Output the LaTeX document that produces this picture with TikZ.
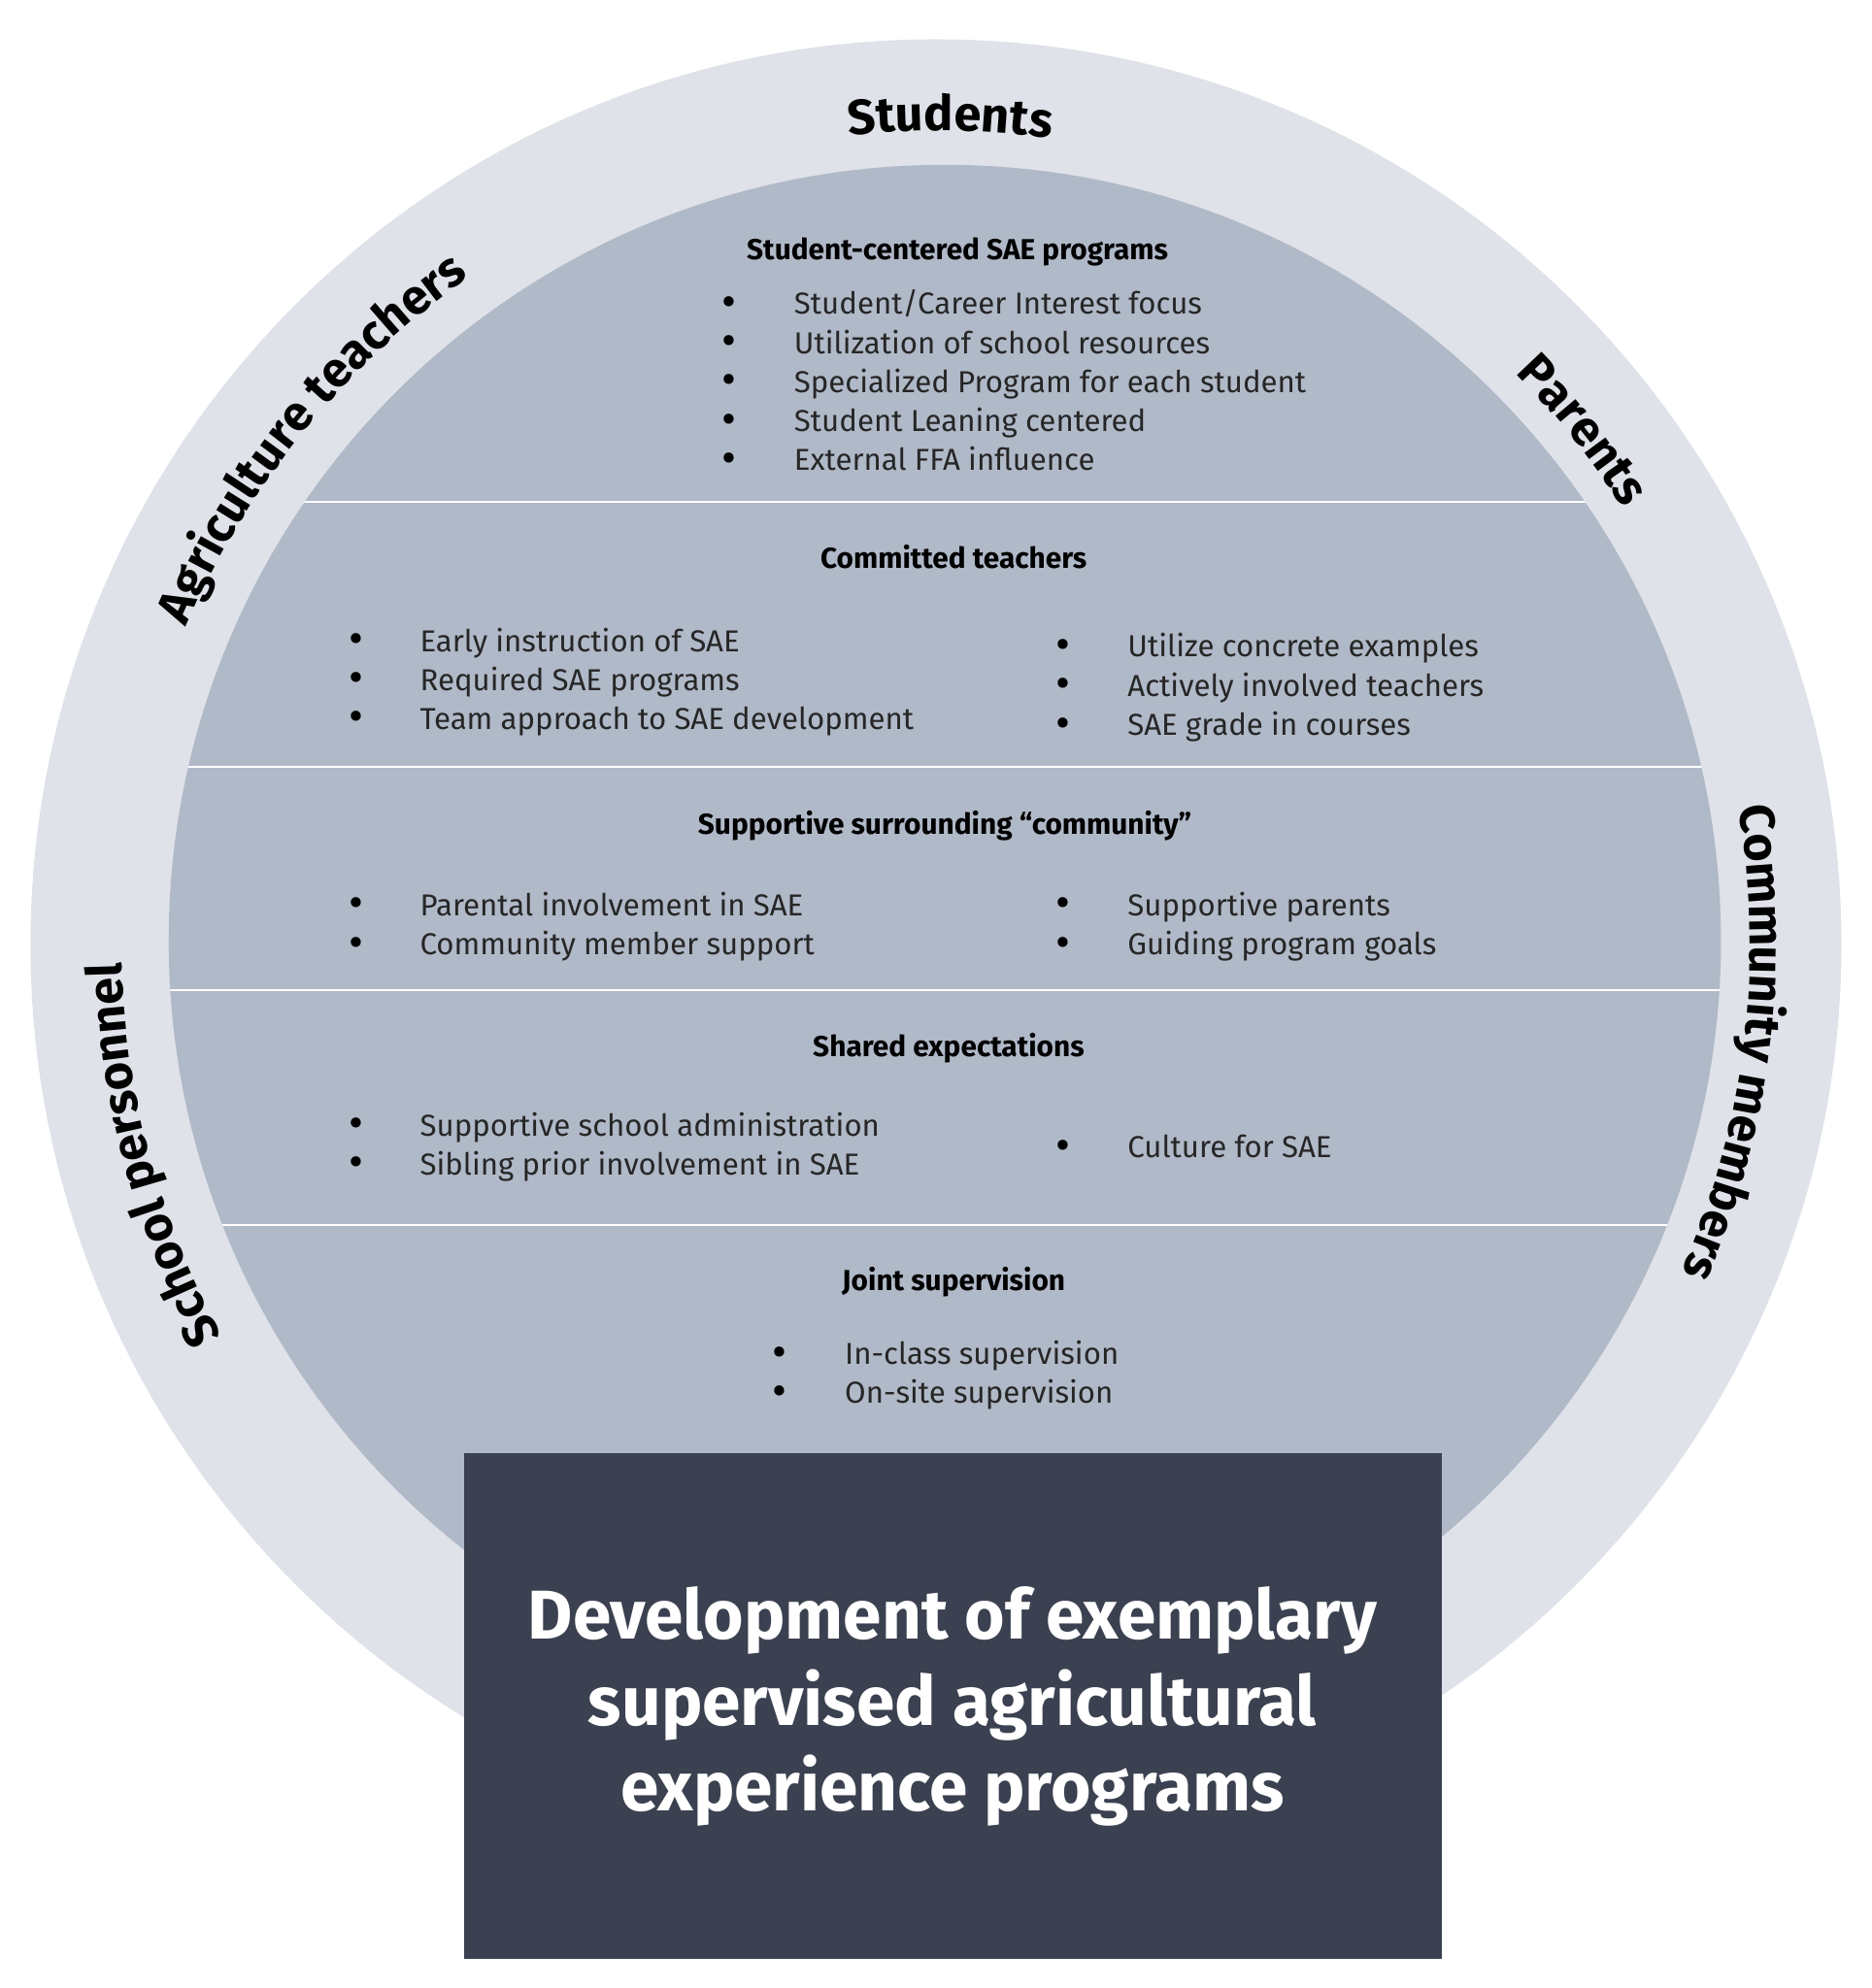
\documentclass[tikz,border=0pt]{standalone}
\usepackage{fontspec}
\setmainfont{Fira Sans}
\usetikzlibrary{decorations.text}
\definecolor{outerc}{HTML}{DFE2E8}
\definecolor{innerc}{HTML}{B0B9C8}
\definecolor{boxc}{HTML}{3B4150}
\tikzset{
  body/.style={anchor=base west,font=\fontsize{13.6}{16}\selectfont,text=black!85},
  bul/.style={anchor=base,font=\fontsize{20}{16}\selectfont},
  head/.style={anchor=base,font=\fontsize{13}{16}\selectfont\bfseries},
  sep/.style={white,line width=1pt}
}
\newcommand{\arclabel}[3]{%
 \path[decorate,decoration={text along path,text align=center,text format delimiters={|}{|},
   text={|\fontsize{22}{26}\selectfont\bfseries|#3}}]
   (738,-745) ++(#1+#2:642) arc[start angle=#1+#2,end angle=#1-#2,radius=642];}
\begin{document}
\begin{tikzpicture}[x=0.02cm,y=0.02cm]
\useasboundingbox (0,0) rectangle (1476,-1568);
\fill[outerc] (738,-745) circle[radius=714];
\fill[innerc] (745,-742) circle[radius=612];
\begin{scope}
\clip (745,-742) circle[radius=612];
\foreach \yy in {396,605,781,966}{\draw[sep] (0,-\yy) -- (1476,-\yy);}
\end{scope}
\arclabel{89}{40}{Students}
\arclabel{141}{45}{Agriculture teachers}
\arclabel{38.5}{25}{Parents}
\arclabel{-7}{45}{Community members}
\arclabel{195}{45}{School personnel}
% section 1
\node[head] (h1) at (755,-205) {Student-centered SAE programs};
\foreach \t [count=\i] in {Student/Career Interest focus,Utilization of school resources,Specialized Program for each student,Student Leaning centered,External FFA influence}{
  \node[bul] (b1\i) at (575,-250-30.75*\i+30.75) {•};
  \node[body] (t1\i) at (620,-248-30.75*\i+30.75) {\t};}
% section 2
\node[head] (h2) at (752,-448) {Committed teachers};
\foreach \t [count=\i] in {Early instruction of SAE,Required SAE programs,Team approach to SAE development}{
  \node[bul] at (281,-516-30.5*\i+30.5) {•};
  \node[body] at (325,-514-30.5*\i+30.5) {\t};}
\foreach \t [count=\i] in {Utilize concrete examples,Actively involved teachers,SAE grade in courses}{
  \node[bul] at (838,-520-31*\i+31) {•};
  \node[body] at (883,-518-31*\i+31) {\t};}
% section 3
\node[head] (h3) at (745,-658) {Supportive surrounding “community”};
\foreach \t [count=\i] in {Parental involvement in SAE,Community member support}{
  \node[bul] at (281,-724-31*\i+31) {•};
  \node[body] at (325,-722-31*\i+31) {\t};}
\foreach \t [count=\i] in {Supportive parents,Guiding program goals}{
  \node[bul] at (838,-724-31*\i+31) {•};
  \node[body] at (883,-722-31*\i+31) {\t};}
% section 4
\node[head] (h4) at (748,-833) {Shared expectations};
\foreach \t [count=\i] in {Supportive school administration,Sibling prior involvement in SAE}{
  \node[bul] at (281,-898-30.5*\i+30.5) {•};
  \node[body] at (325,-896-30.5*\i+30.5) {\t};}
\node[bul] at (838,-915) {•};
\node[body] (c4) at (883,-913) {Culture for SAE};
% section 5
\node[head] (h5) at (752,-1018) {Joint supervision};
\foreach \t [count=\i] in {In-class supervision,On-site supervision}{
  \node[bul] at (615,-1078-31*\i+31) {•};
  \node[body] at (660,-1076-31*\i+31) {\t};}
% box
\fill[boxc] (366,-1146) rectangle (1137,-1545);
\node[text=white,align=center,font=\fontsize{31}{38.5}\selectfont\bfseries] (title) at (751,-1346)
 {Development of exemplary\\supervised agricultural\\experience programs};
\end{tikzpicture}
\end{document}
